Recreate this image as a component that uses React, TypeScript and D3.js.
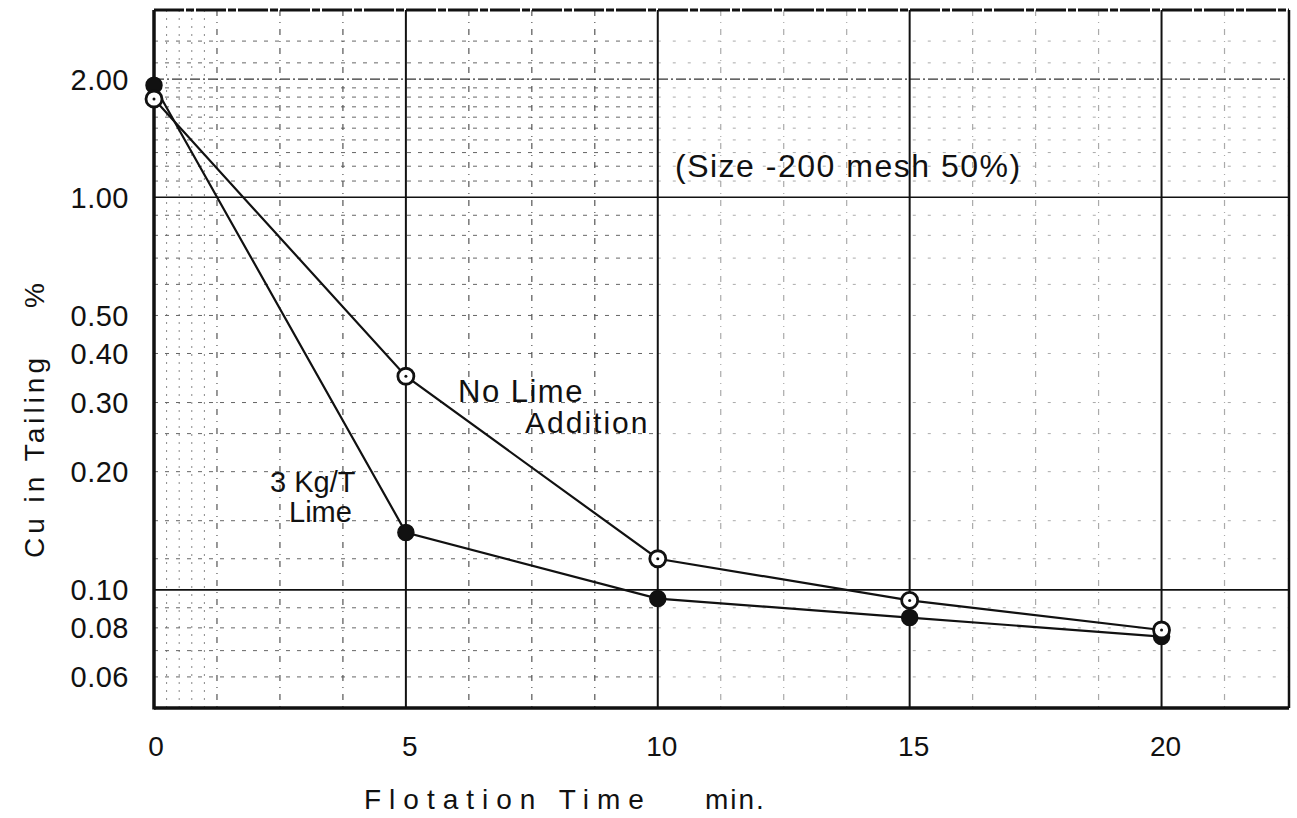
import React from "react";
import * as d3 from "d3";

const times = [0, 5, 10, 15, 20];
const noLime = [1.78, 0.35, 0.12, 0.094, 0.079];
const lime3kg = [1.93, 0.14, 0.095, 0.085, 0.076];
const yTickValues = [2.0, 1.0, 0.5, 0.4, 0.3, 0.2, 0.1, 0.08, 0.06];
const yTickLabels = ["2.00", "1.00", "0.50", "0.40", "0.30", "0.20", "0.10", "0.08", "0.06"];
const xTickValues = [0, 5, 10, 15, 20];
const yMajorGrid = [1.0, 0.1];
const yMinorGrid = [0.06, 0.07, 0.08, 0.09, 0.12, 0.15, 0.2, 0.25, 0.3, 0.4, 0.5, 0.6, 0.7, 0.8, 0.9, 1.1, 1.2, 1.3, 1.4, 1.5, 1.6, 1.7, 1.8, 1.9, 2.2, 2.5];
const xMinorGrid = [1.25, 2.5, 3.75, 6.25, 7.5, 8.75, 11.25, 12.5, 13.75, 16.25, 17.5, 18.75, 21.25];
const xFineGrid = [0.25, 0.5, 0.75, 1.0];

const W = 1297, H = 818;
const L = 154, R = 1289, T = 10, B = 708;

export default function App() {
  const x = d3.scaleLinear().domain([0, 22.53]).range([L, R]);
  const y = d3.scaleLog().domain([0.05, 3]).range([B, T]);
  const line = d3.line<[number, number]>().x(d => x(d[0])).y(d => y(d[1]));
  const dNo = line(times.map((t, i) => [t, noLime[i]] as [number, number])) || "";
  const dLime = line(times.map((t, i) => [t, lime3kg[i]] as [number, number])) || "";
  const font = "'Liberation Sans', Arial, sans-serif";

  return (
    <svg width={W} height={H} style={{ position: "absolute", left: 0, top: 0, background: "#fff" }} fontFamily={font}>
      <rect x={0} y={0} width={W} height={H} fill="#fff" />
      {xFineGrid.map(v => (
        <line key={"xf" + v} x1={x(v)} x2={x(v)} y1={T} y2={B} stroke="#888" strokeWidth={1} strokeDasharray="2 6" />
      ))}
      {yMinorGrid.map(v => (
        <g key={"ym" + v}>
          <line x1={L} x2={x(10)} y1={y(v)} y2={y(v)} stroke="#666" strokeWidth={1} strokeDasharray="4 7" />
          <line x1={x(10)} x2={R} y1={y(v)} y2={y(v)} stroke="#aaa" strokeWidth={1} strokeDasharray="3 12" />
        </g>
      ))}
      {xMinorGrid.map(v => (
        <line key={"xm" + v} x1={x(v)} x2={x(v)} y1={T} y2={B} stroke={v < 10 ? "#555" : "#aaa"} strokeWidth={1.2} strokeDasharray="6 6 1 6" />
      ))}
      <line x1={L} x2={R} y1={y(2)} y2={y(2)} stroke="#333" strokeWidth={1.4} strokeDasharray="10 3 2 3" />
      {yMajorGrid.map(v => (
        <line key={"yM" + v} x1={L} x2={R} y1={y(v)} y2={y(v)} stroke="#111" strokeWidth={1.6} />
      ))}
      {[5, 10, 15, 20].map(v => (
        <line key={"xM" + v} x1={x(v)} x2={x(v)} y1={T} y2={B} stroke="#111" strokeWidth={2} />
      ))}
      <line x1={L} x2={R} y1={T} y2={T} stroke="#111" strokeWidth={3} strokeDasharray="30 2 8 2" />
      <line x1={R} x2={R} y1={T} y2={B} stroke="#111" strokeWidth={2.5} />
      <line x1={L} x2={L} y1={T} y2={B + 1.5} stroke="#111" strokeWidth={3.5} />
      <line x1={L} x2={R} y1={B} y2={B} stroke="#111" strokeWidth={3.5} />

      <path d={dNo} fill="none" stroke="#111" strokeWidth={2.2} />
      <path d={dLime} fill="none" stroke="#111" strokeWidth={2.2} />
      {times.map((t, i) => (
        <circle key={"f" + t} cx={x(t)} cy={y(lime3kg[i])} r={8} fill="#111" stroke="#111" strokeWidth={1.5} />
      ))}
      {times.map((t, i) => (
        <g key={"o" + t}>
          <circle cx={x(t)} cy={y(noLime[i])} r={8} fill="#fff" stroke="#111" strokeWidth={2.8} />
          <circle cx={x(t)} cy={y(noLime[i])} r={1.5} fill="#111" />
        </g>
      ))}

      {yTickValues.map((v, i) => (
        <text key={"yt" + v} x={129} y={y(v)} dy="0.36em" textAnchor="end" fontSize={29} fill="#111" letterSpacing={0.5}>
          {yTickLabels[i]}
        </text>
      ))}
      {xTickValues.map(v => (
        <text key={"xt" + v} x={x(v) + (v === 0 ? 2 : 4)} y={746} dy="0.36em" textAnchor="middle" fontSize={28} fill="#111">
          {v}
        </text>
      ))}
      <text x={364} y={809} fontSize={28} fill="#111" letterSpacing={8}>Flotation Time</text>
      <text x={705} y={809} fontSize={28} fill="#111" letterSpacing={2}>min.</text>
      <text transform="translate(44,558) rotate(-90)" fontSize={28} fill="#111" letterSpacing={4}>
        Cu in Tailing
      </text>
      <text transform="translate(44,308) rotate(-90)" fontSize={28} fill="#111">%</text>

      <text x={675} y={177} fontSize={32} fill="#111" letterSpacing={1.5}>(Size -200 mesh 50%)</text>
      <text x={458} y={402} fontSize={31} fill="#111" letterSpacing={1.5}>No Lime</text>
      <text x={525} y={433} fontSize={30} fill="#111" letterSpacing={2}>Addition</text>
      <text x={270} y={492} fontSize={29} fill="#111">3 Kg/T</text>
      <text x={289} y={522} fontSize={29} fill="#111">Lime</text>
    </svg>
  );
}
